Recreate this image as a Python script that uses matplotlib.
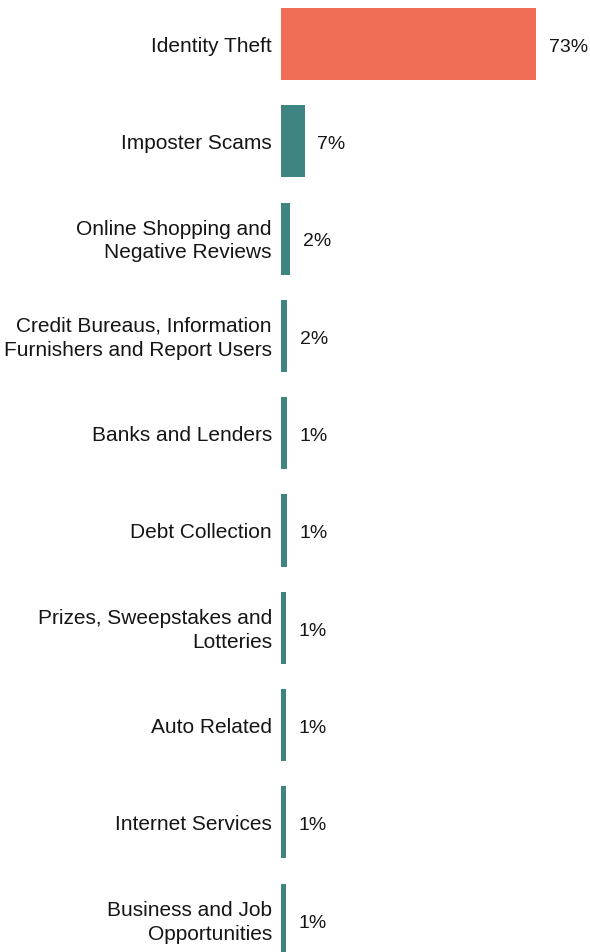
import matplotlib.pyplot as plt
from matplotlib.transforms import offset_copy

plt.rcParams['font.family'] = ['Liberation Sans', 'DejaVu Sans']

categories = [
    "Identity Theft",
    "Imposter Scams",
    "Online Shopping and\nNegative Reviews",
    "Credit Bureaus, Information\nFurnishers and Report Users",
    "Banks and Lenders",
    "Debt Collection",
    "Prizes, Sweepstakes and\nLotteries",
    "Auto Related",
    "Internet Services",
    "Business and Job\nOpportunities",
]
values = [73.0, 6.8, 2.6, 1.8, 1.6, 1.6, 1.5, 1.5, 1.5, 1.4]
value_labels = ["73%", "7%", "2%", "2%", "1%", "1%", "1%", "1%", "1%", "1%"]

CORAL = "#F06C55"
TEAL = "#3E8480"
TEXT = "#151515"

fig = plt.figure(figsize=(5.9, 9.52), dpi=100)
# axes box in pixels: left edge at the bar origin
ax = fig.add_axes([281 / 590, 0.0, 1 - 281 / 590, 1.0])

ypos = list(range(len(categories)))
colors = [CORAL] + [TEAL] * (len(categories) - 1)
ax.barh(ypos, values, height=0.74, color=colors, linewidth=0)

for y, v, lab in zip(ypos, values, value_labels):
    ax.annotate(lab, (v, y), xytext=(9, -1), textcoords='offset points',
                va='center_baseline', ha='left', fontsize=14, color=TEXT)

# category labels drawn by hand so the line spacing sticks
label_tf = offset_copy(ax.get_yaxis_transform(), fig=fig, x=-9, y=-2.5, units='dots')
for y, cat in zip(ypos, categories):
    ax.text(0, y, cat, transform=label_tf, ha='right', va='center',
            multialignment='right', fontsize=15, color=TEXT, linespacing=1.32)

ax.set_yticks([])
# map pixel rows: centre of bar i at 44 + 97.3*i
ax.set_ylim((952 - 44) / 97.3, -44 / 97.3)
ax.set_xlim(0, 73 / (255 / 309))
ax.xaxis.set_visible(False)
for s in ax.spines.values():
    s.set_visible(False)

fig.savefig("out.png", dpi=100)
